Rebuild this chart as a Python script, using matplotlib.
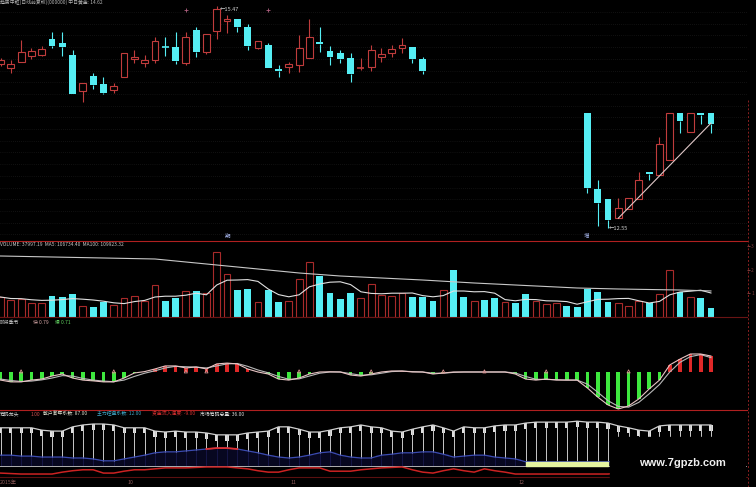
import numpy as np
import pandas as pd
import matplotlib
matplotlib.use('Agg')
import matplotlib.pyplot as plt
from matplotlib.patches import Rectangle
from matplotlib.lines import Line2D

plt.rcParams['font.family'] = ['Noto Sans CJK SC', 'DejaVu Sans']

nan = np.nan
W, H = 756, 487

# K线数据 (42-56 这段画面里没有K线)
opens = [14.71, 14.66, 14.73, 14.81, 14.83, 15.04, 14.98, 14.83, 14.35, 14.55,
         14.45, 14.37, 14.54, 14.77, 14.72, 14.76, 14.93, 14.93, 14.72, 15.15,
         14.86, 15.14, 15.27, 15.30, 15.19, 14.92, 14.96, 14.64, 14.67, 14.69,
         14.79, 15.00, 14.88, 14.85, 14.79, 14.66, 14.67, 14.80, 14.85, 14.92,
         14.93, 14.77] + [nan] * 15 + \
        [14.06, 13.06, 12.93, 12.68, 12.80, 12.93, 13.29, 13.25, 13.45, 14.06, 13.81, 14.06, 14.06]
closes = [14.76, 14.71, 14.86, 14.88, 14.90, 14.94, 14.93, 14.31, 14.46, 14.43,
          14.33, 14.42, 14.85, 14.80, 14.76, 15.01, 14.93, 14.75, 15.06, 14.86,
          15.10, 15.43, 15.30, 15.19, 14.94, 15.01, 14.66, 14.62, 14.71, 14.92,
          15.06, 14.97, 14.80, 14.77, 14.58, 14.66, 14.89, 14.84, 14.90, 14.96,
          14.77, 14.62] + [nan] * 15 + \
         [13.08, 12.88, 12.66, 12.81, 12.95, 13.18, 13.26, 13.66, 14.06, 13.96, 14.06, 14.04, 13.92]
highs = [14.79, 14.76, 15.02, 14.92, 14.94, 15.13, 15.13, 14.89, 14.46, 14.59,
         14.54, 14.46, 14.85, 14.89, 14.83, 15.06, 15.06, 15.13, 15.13, 15.19,
         15.10, 15.47, 15.35, 15.30, 15.23, 15.01, 14.98, 14.69, 14.73, 15.09,
         15.30, 15.19, 14.94, 14.89, 14.85, 14.79, 14.96, 14.92, 14.96, 15.05,
         14.93, 14.80] + [nan] * 15 + \
        [14.06, 13.18, 12.93, 12.95, 12.95, 13.29, 13.29, 13.75, 14.06, 14.06, 14.06, 14.06, 14.06]
lows = [14.68, 14.59, 14.73, 14.77, 14.81, 14.92, 14.81, 14.31, 14.21, 14.38,
        14.31, 14.33, 14.54, 14.72, 14.67, 14.72, 14.81, 14.71, 14.69, 14.80,
        14.84, 15.04, 15.12, 15.13, 14.89, 14.90, 14.66, 14.54, 14.59, 14.60,
        14.79, 14.86, 14.69, 14.72, 14.47, 14.63, 14.62, 14.73, 14.80, 14.85,
        14.72, 14.58] + [nan] * 15 + \
       [13.01, 12.58, 12.55, 12.68, 12.80, 12.93, 13.18, 13.25, 13.45, 13.80, 13.81, 13.92, 13.80]
# r = 阳, c = 阴
updown = "rrrrrcccrccrrrrrccrcrrrccrccrrrccccrrrrrcc" + "crccrccrccrrrcc" + "cccrrrcrrcrcc"

trend_x = [60, 69]
trend_y = [12.68, 13.93]

# 成交量
volume = [84400, 71700, 76000, 59100, 59100, 88600, 84400, 97100, 46400, 42200,
          63300, 50600, 80200, 88600, 67500, 135000, 67500, 80200, 109700, 109700,
          101300, 274300, 181500, 113900, 118200, 63300, 113900, 63300, 67500, 160400,
          232100, 173000, 101300, 76000, 101300, 80200, 139300, 92800, 88600, 101300,
          84400, 84400, 67500, 113900, 198300, 84400, 67500, 71700, 80200, 63300,
          59100, 97100, 67500, 54900, 59100, 46400, 42200, 118200, 105500, 63300,
          59100, 46400, 67500, 59100, 97100, 198300, 105500, 84400, 80200, 37997.19]
ma100_idx = [0, 5, 10, 15, 19, 22, 25, 29, 33, 37, 41, 46, 50, 56, 60, 66, 69]
ma100_val = [257400, 253200, 249000, 244800, 227900, 215200, 202600, 185700, 173000,
             164600, 156100, 143500, 135000, 122400, 118200, 113900, 109923.32]

# 阶段季节 快/慢
fast = [-0.40, -0.49, -0.49, -0.40, -0.35, -0.20, -0.10, -0.30, -0.40, -0.44,
        -0.49, -0.49, -0.30, -0.05, 0.02, 0.15, 0.30, 0.30, 0.20, 0.25,
        0.15, 0.40, 0.44, 0.40, 0.15, 0.00, -0.10, -0.35, -0.40, -0.30,
        -0.10, 0.00, 0.01, 0.00, -0.15, -0.20, -0.10, 0.00, 0.05, 0.05,
        0.00, 0.00, -0.10, -0.05, 0.00, 0.00, 0.00, 0.00, 0.00, 0.00,
        -0.10, -0.35, -0.40, -0.35, -0.40, -0.40, -0.40, -0.79, -1.24, -1.63,
        -1.83, -1.68, -1.33, -0.84, -0.40, 0.35, 0.64, 0.89, 0.89, 0.79]
slow = [-0.35, -0.42, -0.47, -0.45, -0.39, -0.30, -0.18, -0.20, -0.32, -0.40,
        -0.45, -0.48, -0.40, -0.22, -0.06, 0.06, 0.20, 0.28, 0.26, 0.24,
        0.20, 0.30, 0.40, 0.42, 0.28, 0.10, -0.04, -0.22, -0.36, -0.34,
        -0.20, -0.06, 0.00, 0.00, -0.08, -0.16, -0.14, -0.06, 0.02, 0.04,
        0.02, 0.00, -0.06, -0.06, -0.02, 0.00, 0.00, 0.00, 0.00, 0.00,
        -0.05, -0.22, -0.36, -0.37, -0.38, -0.40, -0.40, -0.60, -1.00, -1.42,
        -1.70, -1.74, -1.50, -1.08, -0.62, 0.00, 0.48, 0.76, 0.86, 0.71]
osc_marks = [2, 11, 18, 20, 29, 36, 43, 47, 53, 61]

# 筹码指标
sanhu = [81, 81, 81, 81, 76, 74, 74, 83, 87, 89, 89, 87, 81, 81, 81, 74, 72, 74, 72, 72,
         70, 66, 66, 66, 70, 72, 74, 83, 83, 78, 72, 72, 76, 81, 83, 87, 83, 81, 74, 72,
         78, 83, 87, 81, 74, 83, 81, 81, 85, 87, 87, 91, 93, 93, 93, 93, 95, 93, 93, 91,
         85, 81, 76, 74, 85, 87, 87, 87, 87, 87]
zhuli = [23, 23, 21, 21, 19, 19, 19, 17, 17, 15, 11, 11, 15, 19, 23, 28, 30, 30, 32, 34,
         36, 38, 38, 36, 32, 28, 23, 19, 17, 19, 23, 28, 30, 23, 19, 17, 17, 23, 25, 28,
         28, 30, 30, 25, 19, 21, 23, 23, 19, 17, 15, 9, 9, 9, 9, 9, 9, 9, 9, 9,
         10, 10, 11, 11, 12, 12, 12, 12, 12, 12]
zijin = [-15, -16, -17, -17, -17, -17, -13, -10, -8, -8, -15, -15, -11, -8, -8, -6, -4, -4, -4, -3,
         -2, -2, -2, -4, -6, -10, -13, -13, -8, -4, -4, -4, -11, -11, -11, -8, -6, -4, -3, -2,
         -8, -13, -15, -10, -6, -10, -13, -6, -10, -13, -17, -17, -17, -17, -17, -17, -17, -17, -17, -17,
         -15, -13, -11, -10, -9, -9, -9, -9, -9, -9]

date_pos = [0, 127, 290, 518]
date_lab = ['2015年', '10', '11', '12']

RED = '#c03c3c'
CYAN = '#55eef4'
FS = 3.5
x = np.arange(len(volume))

fig = plt.figure(figsize=(W / 100, H / 100), dpi=100, facecolor='black')


def panel(top, bottom):
    a = fig.add_axes([0, 1 - bottom / H, 747 / W, (bottom - top) / H])
    a.set_facecolor('black')
    a.set_xlim(-0.05, 72.5)
    for s in a.spines.values():
        s.set_visible(False)
    a.set_xticks([])
    a.set_yticks([])
    return a


def label(px, py, s, color):
    fig.text(px / W, 1 - py / H, s, color=color, fontsize=FS, va='center')


# ---- 主图 ----
ax_p = panel(0, 241)
ax_p.set_ylim(12.38, 15.549)
for g in np.arange(15.391, 12.4, -0.1539):
    ax_p.axhline(g, color='#222222', lw=0.5, ls=(0, (1, 2)), zorder=0)
for i in range(len(opens)):
    o, c, h, l = opens[i], closes[i], highs[i], lows[i]
    if np.isnan(o):
        continue
    col = RED if updown[i] == 'r' else CYAN
    top, bot = max(o, c), min(o, c)
    ax_p.vlines(i, top, h, color=col, lw=0.8)
    ax_p.vlines(i, l, bot, color=col, lw=0.8)
    if top - bot < 0.015:
        ax_p.hlines(o, i - 0.33, i + 0.33, color=col, lw=1.2)
    elif updown[i] == 'r':
        ax_p.bar(i, top - bot, bottom=bot, width=0.66, facecolor='black', edgecolor=col, lw=0.8)
    else:
        ax_p.bar(i, top - bot, bottom=bot, width=0.66, color=col)
ax_p.plot(trend_x, trend_y, color='#e0c8c8', lw=0.8)
ax_p.text(21.3, 15.43, '←15.47', color='#cfcfcf', fontsize=4, va='center')
ax_p.text(59.1, 12.55, '←12.55', color='#cfcfcf', fontsize=4, va='center')
ax_p.scatter([18, 26], [15.42, 15.42], marker='+', s=6, color='#b06080', lw=0.6)
ax_p.text(21.8, 12.44, '期', color='#a8b8f0', fontsize=4, va='center')
ax_p.text(56.6, 12.44, '增', color='#a8b8f0', fontsize=4, va='center')
label(0, 2, '趋势中枢(日线前复权)(000000) 中日黄金: 14.62', '#b8b8b8')

# ---- 成交量 ----
ax_v = panel(241, 317)
ax_v.set_ylim(0, 320700)
for i in range(len(volume)):
    if updown[i] == 'r':
        ax_v.bar(i, volume[i], width=0.66, facecolor='black', edgecolor='#a82a2a', lw=0.8)
    else:
        ax_v.bar(i, volume[i], width=0.66, color=CYAN)
ma5 = pd.Series(volume).rolling(5, min_periods=1).mean()
ax_v.plot(x, ma5, color='#e0e0e0', lw=0.8)
ax_v.plot(ma100_idx, ma100_val, color='#c8c8c8', lw=0.8)
ax_v.set_yticks([100000, 200000, 300000])
ax_v.set_yticklabels(['1', '2', '3'])
ax_v.tick_params(axis='y', left=False, labelleft=False, right=True, labelright=True,
                 colors='#7a3a3a', labelsize=3.5, length=2, pad=1)
label(0, 245, 'VOLUME: 37997.19  MA5: 106734.40  MA100: 109923.32', '#c8c8c8')

# ---- 阶段季节 ----
ax_o = panel(317, 410)
ax_o.set_ylim(-1.88, 2.72)
fast_a = np.array(fast)
ax_o.bar(x, fast_a, width=0.36, color=np.where(fast_a >= 0, '#e02828', '#3ee83e'))
ax_o.plot(x, slow, color='#b8b8b8', lw=0.8)
ax_o.plot(x, fast, color='#e8c4c4', lw=0.8)
ax_o.scatter(osc_marks, [0.03] * len(osc_marks), s=5, marker='^', facecolor='none',
             edgecolor='#d89090', lw=0.6, zorder=5)
label(0, 322, '阶段季节', '#c8c8c8')
label(33, 322, '快 0.79', '#d8a8a8')
label(55, 322, '慢 0.71', '#60d060')

# ---- 筹码 ----
ax_b = panel(410, 477)
ax_b.set_ylim(-23.3, 118.7)
zl = np.array(zhuli)
ax_b.fill_between(x, 0, zl, color='#070720', step='mid')
ax_b.vlines(x, 0, zl, color='#161648', lw=0.7)
ax_b.fill_between(x, 0, zl, where=zl < 10, color='#e4f4a0', step='mid', zorder=3)
ax_b.vlines(x, zl, sanhu, color='#c8c8c8', lw=0.7)
ax_b.bar(x, -12, bottom=sanhu, width=0.3, color='#e0e0e0')
ax_b.plot(x, sanhu, color='#d0d0d0', lw=0.9)
ax_b.plot(x, zl, color='#3a4ab0', lw=0.9)
hot = np.where(zl >= 35, zl, np.nan)
ax_b.plot(x, hot, color='#e03030', lw=1.3)
ax_b.axhline(0, color='#b0b0b0', lw=0.7)
ax_b.plot(x, zijin, color='#cc2222', lw=1.1)
label(0, 414, '筹码龙头', '#d0d0d0')
label(31, 414, '1.00', '#d05050')
label(43, 414, '散户套牢系数: 87.00', '#e0e0d0')
label(97, 414, '主力控盘系数: 12.00', '#40a8c8')
label(152, 414, '资金流入速度: -9.00', '#d83030')
label(200, 414, '市场筹码总量: 36.00', '#e0e0e0')

for px, lab in zip(date_pos, date_lab):
    fig.text(px / W, 1 - 483 / H, lab, color='#8c5a5a', fontsize=3.8, va='center')

# 分隔线
for yy, cc in [(241, '#b02020'), (317, '#6a1414'), (410, '#b02020'), (477, '#5a1010')]:
    fig.add_artist(Line2D([0, 747 / W], [1 - yy / H, 1 - yy / H], transform=fig.transFigure,
                          color=cc, lw=0.8))
fig.add_artist(Line2D([748 / W, 748 / W], [0, 1 - 100 / H], transform=fig.transFigure,
                      color='#8a2020', lw=0.7, ls=(0, (2, 2))))

# 水印
fig.add_artist(Rectangle((610 / W, 0), 135 / W, 50 / H, transform=fig.transFigure,
                         color='black', zorder=10))
fig.text(682 / W, 1 - 463 / H, 'www.7gpzb.com', color='#f0f0f0', fontsize=8,
         family='Liberation Sans', weight='bold', ha='center', va='center', zorder=11)

fig.savefig('out.png', dpi=100, facecolor='black')
